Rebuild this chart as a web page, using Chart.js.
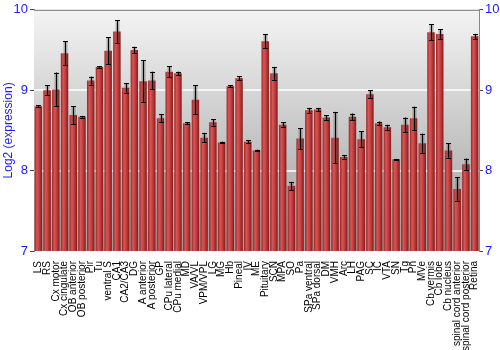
<!DOCTYPE html>
<html>
<head>
<meta charset="utf-8">
<script src="https://cdn.jsdelivr.net/npm/chart.js@4"></script>
<style>
  html, body { margin: 0; padding: 0; background: #fff; }
  #wrap { width: 500px; height: 350px; }
</style>
</head>
<body>
<div id="wrap"><canvas id="chart"></canvas></div>
<script>
const regions = ['LS', 'RS', 'Cx motor', 'Cx cingulate', 'OB anterior', 'OB posterior', 'Pir', 'Tu',
    'ventral S', 'CA1', 'CA2/CA3', 'DG', 'A anterior', 'A posterior', 'GP', 'CPu lateral', 'CPu medial',
    'MD', 'VA/VL', 'VPM/VPL', 'LG', 'MG', 'Hb', 'Pineal', 'IV', 'ME', 'Pituitary', 'SCN', 'MPA', 'SO',
    'Pa', 'SPa ventral', 'SPa dorsal', 'DM', 'VMH', 'Arc', 'LH', 'PAG', 'SC', 'IC', 'VTA', 'SN', 'Tg',
    'Pn', 'MVe', 'Cb vermis', 'Cb lobe', 'Cb nucleus', 'spinal cord anterior', 'spinal cord posterior',
    'Retina'];

const expression = [8.80, 9.00, 9.01, 9.46, 8.69, 8.67, 9.12, 9.29, 9.49, 9.73, 9.03, 9.50, 9.11, 9.12,
    8.65, 9.23, 9.21, 8.59, 8.88, 8.41, 8.60, 8.35, 9.05, 9.15, 8.36, 8.25, 9.61, 9.21, 8.57, 7.81,
    8.40, 8.75, 8.76, 8.66, 8.41, 8.17, 8.67, 8.39, 8.95, 8.59, 8.54, 8.14, 8.57, 8.65, 8.34, 9.72,
    9.70, 8.25, 7.77, 8.08, 9.67];

const errors = [0.01, 0.06, 0.21, 0.15, 0.11, 0.01, 0.05, 0.01, 0.17, 0.14, 0.06, 0.04, 0.26, 0.11,
    0.05, 0.07, 0.02, 0.01, 0.18, 0.06, 0.04, 0.01, 0.01, 0.025, 0.02, 0.01, 0.09, 0.08, 0.03, 0.05,
    0.13, 0.03, 0.02, 0.03, 0.32, 0.02, 0.04, 0.10, 0.05, 0.02, 0.03, 0.005, 0.09, 0.145, 0.12, 0.10,
    0.06, 0.09, 0.145, 0.07, 0.03];

const yTicks = [7, 8, 9, 10];

const blue = '#1a1aff';

// gradient background behind the bars
const plotBackground = {
    id: 'plotBackground',
    beforeDatasetsDraw(chart) {
        const { ctx, chartArea: a } = chart;
        const g = ctx.createLinearGradient(0, a.top, 0, a.bottom);
        g.addColorStop(0, '#f4f4f4');
        g.addColorStop(1, '#9c9c9c');
        ctx.save();
        ctx.fillStyle = g;
        ctx.fillRect(a.left, a.top, a.right - a.left, a.bottom - a.top);
        // white grid lines
        ctx.strokeStyle = 'rgba(255,255,255,0.75)';
        ctx.lineWidth = 2;
        const y = chart.scales.y;
        [8, 9].forEach(v => {
            const py = Math.round(y.getPixelForValue(v));
            ctx.beginPath();
            ctx.moveTo(a.left, py);
            ctx.lineTo(a.right, py);
            ctx.stroke();
        });
        ctx.strokeStyle = '#777';
        ctx.lineWidth = 1;
        ctx.beginPath();
        ctx.moveTo(a.left, a.top + 0.5);
        ctx.lineTo(a.right, a.top + 0.5);
        ctx.stroke();
        ctx.restore();
    }
};

// error bars drawn on the bar scale
const errorBars = {
    id: 'errorBars',
    afterDatasetsDraw(chart) {
        const { ctx } = chart;
        const xs = chart.scales.x, ys = chart.scales.y;
        ctx.save();
        expression.forEach((v, i) => {
            const px = Math.round(xs.getPixelForValue(i)) + 0.5;
            const hi = ys.getPixelForValue(v + errors[i]);
            const lo = ys.getPixelForValue(v - errors[i]);
            ctx.strokeStyle = 'rgba(60,60,60,0.35)';
            ctx.lineWidth = 4;
            ctx.beginPath();
            ctx.moveTo(px, hi); ctx.lineTo(px, lo);
            ctx.stroke();
            ctx.strokeStyle = '#000';
            ctx.lineWidth = 1;
            ctx.beginPath();
            ctx.moveTo(px, hi); ctx.lineTo(px, lo);
            ctx.moveTo(px - 2.5, Math.round(hi) + 0.5); ctx.lineTo(px + 2.5, Math.round(hi) + 0.5);
            ctx.moveTo(px - 2.5, Math.round(lo) + 0.5); ctx.lineTo(px + 2.5, Math.round(lo) + 0.5);
            ctx.stroke();
        });
        ctx.restore();
    }
};

function barFill(context) {
    const chart = context.chart;
    if (!chart.chartArea) return '#c03a3a';
    const xs = chart.scales.x;
    const cx = xs.getPixelForValue(context.dataIndex);
    const w = 7.5;
    const g = chart.ctx.createLinearGradient(cx - w / 2, 0, cx + w / 2, 0);
    g.addColorStop(0, '#9a2222');
    g.addColorStop(0.3, '#d65656');
    g.addColorStop(0.55, '#c84343');
    g.addColorStop(1, '#861a1a');
    return g;
}

new Chart(document.getElementById('chart'), {
    type: 'bar',
    data: {
        labels: regions,
        datasets: [{
            data: expression,
            backgroundColor: barFill,
            borderWidth: 0,
            barPercentage: 0.9,
            categoryPercentage: 0.95
        }]
    },
    options: {
        responsive: true,
        maintainAspectRatio: false,
        animation: false,
        layout: { padding: { top: 9, right: 0, left: 0, bottom: 0 } },
        plugins: {
            legend: { display: false },
            tooltip: { enabled: false }
        },
        scales: {
            x: {
                afterFit: axis => { axis.height = 99; },
                grid: { display: false },
                border: { display: false },
                ticks: {
                    autoSkip: false,
                    maxRotation: 90,
                    minRotation: 90,
                    padding: 2,
                    color: '#000',
                    font: { family: 'Liberation Sans', size: 10 }
                }
            },
            y: {
                position: 'left',
                min: 7,
                max: 10,
                afterBuildTicks: axis => { axis.ticks = yTicks.map(v => ({ value: v })); },
                afterFit: axis => { axis.width = 34; },
                grid: { drawOnChartArea: false, tickLength: 4, tickColor: '#444' },
                border: { color: '#888' },
                ticks: {
                    color: blue,
                    padding: 2,
                    font: { family: 'Liberation Sans', size: 13 }
                },
                title: {
                    display: true,
                    text: 'Log2 (expression)',
                    color: blue,
                    padding: 1,
                    font: { family: 'Liberation Sans', size: 12 }
                }
            },
            y2: {
                position: 'right',
                min: 7,
                max: 10,
                afterBuildTicks: axis => { axis.ticks = yTicks.map(v => ({ value: v })); },
                afterFit: axis => { axis.width = 21; },
                grid: { drawOnChartArea: false, tickLength: 4, tickColor: '#444' },
                border: { color: '#888' },
                ticks: {
                    color: blue,
                    padding: 2,
                    font: { family: 'Liberation Sans', size: 13 }
                }
            }
        }
    },
    plugins: [plotBackground, errorBars]
});
</script>
</body>
</html>
